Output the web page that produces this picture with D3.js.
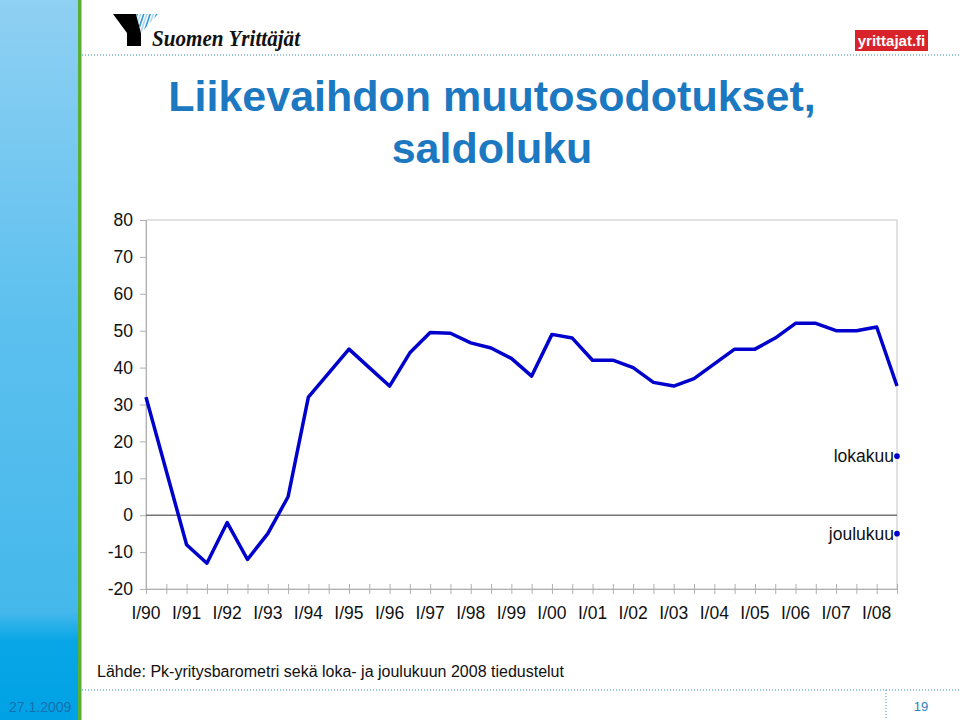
<!DOCTYPE html>
<html>
<head>
<meta charset="utf-8">
<script src="https://cdn.jsdelivr.net/npm/d3@7"></script>
<style>
  body { margin: 0; background: #fff; }
  svg { display: block; font-family: "Liberation Sans", Arial, sans-serif; }
</style>
</head>
<body>
<svg id="chart" width="960" height="720"></svg>
<script>
// half-year periods I/90 ... II/08
const years = ["90","91","92","93","94","95","96","97","98","99","00","01","02","03","04","05","06","07","08"];
const saldo = [32, 12, -8, -13, -2, -12, -5, 5, 32, 38.5, 45, 40, 35, 44,
               49.5, 49.3, 46.7, 45.3, 42.5, 37.7, 49, 48, 42, 42, 40, 36,
               35, 37, 41, 45, 45, 48, 52, 52, 50, 50, 51, 35];
const surveyNames = ["lokakuu", "joulukuu"];
const surveyValues = [16, -5];
const yTicks = [-20, -10, 0, 10, 20, 30, 40, 50, 60, 70, 80];

const svg = d3.select("#chart");

// slide decoration: sidebar
const defs = svg.append("defs");
let grad = defs.append("linearGradient")
    .attr("id", "side")
    .attr("x1", 0).attr("y1", 0).attr("x2", 0).attr("y2", 1);
grad.append("stop").attr("offset", "0%").attr("stop-color", "#8fd0f3");
grad.append("stop").attr("offset", "45%").attr("stop-color", "#5cc0ee");
grad.append("stop").attr("offset", "85%").attr("stop-color", "#45b8eb");
grad.append("stop").attr("offset", "89%").attr("stop-color", "#08a6e6");
grad.append("stop").attr("offset", "100%").attr("stop-color", "#00a2e5");

svg.append("rect").attr("x", 0).attr("y", 0).attr("width", 78).attr("height", 720)
    .attr("fill", "url(#side)");
svg.append("rect").attr("x", 78).attr("y", 0).attr("width", 3.5).attr("height", 720)
    .attr("fill", "#5aae32");

// dotted separators
svg.append("line").attr("x1", 82).attr("x2", 960).attr("y1", 55).attr("y2", 55)
    .attr("stroke", "#3a8fb0").attr("stroke-width", 1).attr("stroke-dasharray", "1,2");
svg.append("line").attr("x1", 82).attr("x2", 960).attr("y1", 690).attr("y2", 690)
    .attr("stroke", "#3a8fb0").attr("stroke-width", 1).attr("stroke-dasharray", "1,2");
svg.append("line").attr("x1", 886).attr("x2", 886).attr("y1", 690).attr("y2", 720)
    .attr("stroke", "#3a8fb0").attr("stroke-width", 1).attr("stroke-dasharray", "1,2");

// Suomen Yrittajat logo
let logo = svg.append("g");
defs.append("clipPath").attr("id", "stripes")
    .append("path").attr("d", "M136,14 L158,14 L141,33 Z");
logo.append("path")
    .attr("d", "M113,14 L136,14 L141,33 L141,46 L127,46 L127,33 Z")
    .attr("fill", "#000");
let stripes = logo.append("g").attr("clip-path", "url(#stripes)");
for (let k = 0; k < 7; k++) {
    stripes.append("line")
        .attr("x1", 138 + k * 3.2).attr("y1", 12)
        .attr("x2", 130 + k * 3.2).attr("y2", 36)
        .attr("stroke", k % 2 ? "#a8d8f0" : "#2f9ad4").attr("stroke-width", 1.6);
}
logo.append("text")
    .attr("x", 152).attr("y", 46)
    .attr("font-family", "'Liberation Serif', 'DejaVu Serif', serif")
    .attr("font-style", "italic").attr("font-weight", "bold")
    .attr("font-size", 23).attr("fill", "#111")
    .attr("textLength", 148).attr("lengthAdjust", "spacingAndGlyphs")
    .text("Suomen Yrittäjät");

// yrittajat.fi logo
svg.append("rect").attr("x", 855).attr("y", 30).attr("width", 73).attr("height", 21)
    .attr("fill", "#d9232a");
svg.append("text").attr("x", 891.5).attr("y", 46).attr("text-anchor", "middle")
    .attr("font-weight", "bold").attr("font-size", 15).attr("fill", "#fff")
    .text("yrittajat.fi");

// title
svg.append("text").attr("x", 492).attr("y", 111).attr("text-anchor", "middle")
    .attr("font-weight", "bold").attr("font-size", 43).attr("fill", "#1c78c0")
    .text("Liikevaihdon muutosodotukset,");
svg.append("text").attr("x", 492).attr("y", 163).attr("text-anchor", "middle")
    .attr("font-weight", "bold").attr("font-size", 43).attr("fill", "#1c78c0")
    .text("saldoluku");

// chart
const x = d3.scaleLinear().domain([0, saldo.length - 1]).range([146, 897]);
const y = d3.scaleLinear().domain([-20, 80]).range([589, 220]);

// frame
svg.append("rect")
    .attr("x", x(0)).attr("y", y(80))
    .attr("width", x(saldo.length - 1) - x(0)).attr("height", y(-20) - y(80))
    .attr("fill", "none").attr("stroke", "#c4c4c4").attr("stroke-width", 1);

// y axis
const yAxis = svg.append("g")
    .attr("transform", `translate(${x(0)},0)`)
    .call(d3.axisLeft(y).tickValues(yTicks).tickSize(6).tickPadding(7)
        .tickFormat(d => String(d)));
yAxis.select(".domain").attr("stroke", "#b0b0b0");
yAxis.selectAll(".tick line").attr("stroke", "#b0b0b0");
yAxis.selectAll("text").attr("font-size", 17.5).attr("fill", "#111")
    .attr("font-family", "'Liberation Sans', Arial, sans-serif");

// x axis: ticks crossing the bottom line at every half year
const xAxis = svg.append("g")
    .attr("transform", `translate(0,${y(-20)})`)
    .call(d3.axisBottom(x).tickValues(d3.range(saldo.length)).tickSize(5).tickFormat(""));
xAxis.select(".domain").attr("stroke", "#b0b0b0");
xAxis.selectAll(".tick line").attr("stroke", "#b0b0b0").attr("y1", -5);

svg.append("g").selectAll("text")
    .data(years)
    .join("text")
    .attr("x", (d, i) => x(i * 2))
    .attr("y", 619)
    .attr("text-anchor", "middle")
    .attr("font-size", 17.5).attr("fill", "#111")
    .text(d => "I/" + d);

// zero line
svg.append("line")
    .attr("x1", x(0)).attr("x2", x(saldo.length - 1))
    .attr("y1", y(0)).attr("y2", y(0))
    .attr("stroke", "#777").attr("stroke-width", 1.5);

// series
svg.append("path")
    .datum(saldo)
    .attr("fill", "none")
    .attr("stroke", "#0000cc")
    .attr("stroke-width", 3.5)
    .attr("stroke-linejoin", "round")
    .attr("d", d3.line().x((d, i) => x(i)).y(d => y(d)));

// later surveys
const last = saldo.length - 1;
svg.append("g").selectAll("circle")
    .data(surveyValues)
    .join("circle")
    .attr("cx", x(last)).attr("cy", d => y(d)).attr("r", 2.8)
    .attr("fill", "#0000cc");
svg.append("g").selectAll("text")
    .data(surveyNames)
    .join("text")
    .attr("x", x(last) - 3)
    .attr("y", (d, i) => y(surveyValues[i]) + 6)
    .attr("text-anchor", "end")
    .attr("font-size", 17.5).attr("fill", "#111")
    .text(d => d);

// footer
svg.append("text").attr("x", 97).attr("y", 677)
    .attr("font-size", 16).attr("fill", "#111")
    .text("Lähde: Pk-yritysbarometri sekä loka- ja joulukuun 2008 tiedustelut");
svg.append("text").attr("x", 9).attr("y", 712)
    .attr("font-size", 14).attr("fill", "#1470b0")
    .text("27.1.2009");
svg.append("text").attr("x", 921).attr("y", 711).attr("text-anchor", "middle")
    .attr("font-size", 13).attr("fill", "#2a7fc0")
    .text("19");
</script>
</body>
</html>
